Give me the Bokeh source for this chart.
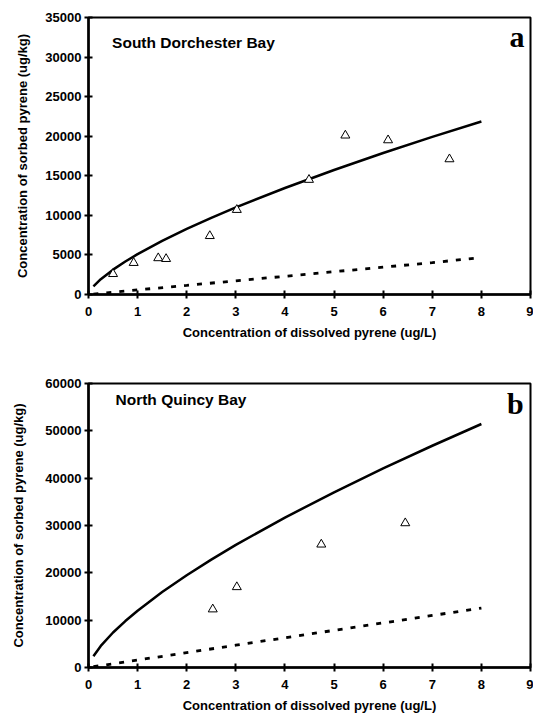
from bokeh.plotting import figure
from bokeh.layouts import column
from bokeh.models import Range1d, FixedTicker, Label, NumeralTickFormatter
from bokeh.embed import file_html
from bokeh.resources import INLINE

# ---- Panel a: South Dorchester Bay ----
a_obs_x = [0.50, 0.92, 1.42, 1.58, 2.47, 3.02, 4.49, 5.23, 6.10, 7.35]
a_obs_y = [2600, 4000, 4600, 4500, 7400, 10700, 14500, 20100, 19500, 17100]
a_fit_x = [0.1, 0.25, 0.5, 0.75, 1, 1.5, 2, 2.5, 3, 4, 5, 6, 7, 8]
a_fit_y = [1020, 1930, 3140, 4170, 5100, 6770, 8280, 9690, 11010, 13460, 15730, 17880, 19910, 21860]
a_dash_x = [0.1, 1, 2, 3, 4, 5, 6, 7, 7.9]
a_dash_y = [60, 580, 1150, 1730, 2300, 2880, 3450, 4030, 4600]

# ---- Panel b: North Quincy Bay ----
b_obs_x = [2.53, 3.02, 4.74, 6.45]
b_obs_y = [12300, 17000, 26000, 30500]
b_fit_x = [0.1, 0.25, 0.5, 0.75, 1, 1.5, 2, 2.5, 3, 4, 5, 6, 7, 8]
b_fit_y = [2390, 4550, 7390, 9810, 12000, 15940, 19490, 22790, 25900, 31670, 37020, 42060, 46850, 51440]
b_dash_x = [0.1, 1, 2, 3, 4, 5, 6, 7, 8]
b_dash_y = [160, 1570, 3140, 4710, 6280, 7850, 9420, 10990, 12560]

x_ticks = [0, 1, 2, 3, 4, 5, 6, 7, 8, 9]
a_y_ticks = [0, 5000, 10000, 15000, 20000, 25000, 30000, 35000]
b_y_ticks = [0, 10000, 20000, 30000, 40000, 50000, 60000]

X_TITLE = "Concentration of dissolved pyrene (ug/L)"
Y_TITLE = "Concentration of sorbed pyrene (ug/kg)"
SANS = "Liberation Sans"
SERIF = "Liberation Serif"


def make_panel(width, height, ymax, yticks, borders, ytitle_standoff, obs_x, obs_y,
               fit_x, fit_y, dash_x, dash_y, site, site_xy, letter, letter_xy):
    left, right, top, bottom = borders
    p = figure(width=width, height=height, output_backend="svg", toolbar_location=None,
               x_range=Range1d(0, 9), y_range=Range1d(0, ymax),
               min_border_left=left, min_border_right=right,
               min_border_top=top, min_border_bottom=bottom)
    p.grid.visible = False
    p.outline_line_color = "black"
    p.outline_line_width = 2
    p.background_fill_color = "white"
    p.border_fill_color = "white"

    for ax in (p.xaxis[0], p.yaxis[0]):
        ax.axis_line_width = 2.5
        ax.axis_line_color = "black"
        ax.major_tick_line_width = 2
        ax.major_tick_line_color = "black"
        ax.major_tick_in = 4
        ax.major_tick_out = 4
        ax.minor_tick_line_color = None
        ax.major_label_text_font = SANS
        ax.major_label_text_font_style = "bold"
        ax.major_label_text_font_size = "13px"
        ax.major_label_text_color = "black"
        ax.axis_label_text_font = SANS
        ax.axis_label_text_font_style = "bold"
        ax.axis_label_text_font_size = "13px"
        ax.axis_label_text_color = "black"

    p.xaxis.ticker = FixedTicker(ticks=x_ticks)
    p.yaxis.ticker = FixedTicker(ticks=yticks)
    p.yaxis.formatter = NumeralTickFormatter(format="0")
    p.xaxis.axis_label = X_TITLE
    p.yaxis.axis_label = Y_TITLE
    p.xaxis.major_label_standoff = 8
    p.yaxis.major_label_standoff = 3
    p.xaxis.axis_label_standoff = 6
    p.yaxis.axis_label_standoff = ytitle_standoff

    p.line(fit_x, fit_y, line_color="black", line_width=2.5)
    p.line(dash_x, dash_y, line_color="black", line_width=2.8, line_dash="5 8")
    p.scatter(obs_x, obs_y, marker="triangle", size=9, fill_color="white",
              line_color="black", line_width=1)

    p.add_layout(Label(x=site_xy[0], y=site_xy[1], text=site, text_font=SANS,
                       text_font_style="bold", text_font_size="15.5px",
                       text_baseline="middle", text_align="left", text_color="black"))
    p.add_layout(Label(x=letter_xy[0], y=letter_xy[1], text=letter, text_font=SERIF,
                       text_font_style="bold", text_font_size="30px",
                       text_baseline="middle", text_align="right", text_color="black"))
    return p


pa = make_panel(533, 343, 35000, a_y_ticks, (83, 2, 17, 49), 12,
                a_obs_x, a_obs_y, a_fit_x, a_fit_y, a_dash_x, a_dash_y,
                "South Dorchester Bay", (0.48, 31800), "a", (8.88, 32600))
pb = make_panel(533, 372, 60000, b_y_ticks, (88, 3, 40, 47), 16,
                b_obs_x, b_obs_y, b_fit_x, b_fit_y, b_dash_x, b_dash_y,
                "North Quincy Bay", (0.55, 56600), "b", (8.86, 55800))

layout = column(pa, pb, spacing=0)
open("out.html", "w").write(file_html(layout, INLINE))
